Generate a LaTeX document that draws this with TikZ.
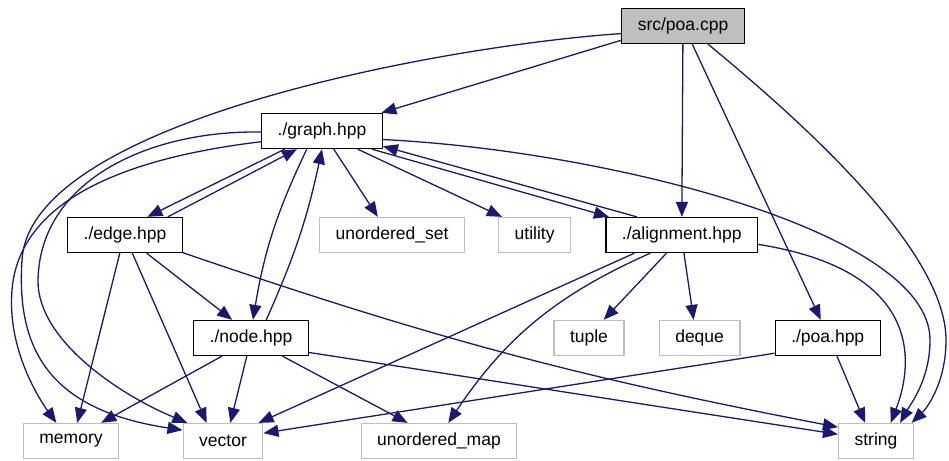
\documentclass[tikz,border=0pt]{standalone}
\usepackage{fontspec}
\setmainfont{Liberation Sans}
\usetikzlibrary{positioning}
\usetikzlibrary{arrows.meta}

\definecolor{inclblue}{HTML}{191970}
\definecolor{sysgray}{HTML}{BFBFBF}

\begin{document}
\begin{tikzpicture}[
                          x=1pt, y=-1pt,
                          every node/.style={font=\fontsize{17.5}{21}\selectfont},
                          filenode/.style={rectangle, draw=black, fill=white, line width=1.3pt, minimum height=35pt, inner xsep=16pt},
                          rootnode/.style={filenode, fill=sysgray},
                          sysnode/.style={filenode, draw=sysgray},
                          incl/.style={-{Triangle[length=15pt,width=12pt]}, draw=inclblue, line width=1.3pt},
                      ]
                      \useasboundingbox (0,0) rectangle (949,460);

                      %Nodes
                      \node[rootnode]   (poa_cpp)   at (683,26)                 {src/poa.cpp};
                      \node[filenode]   (graph_h)   at (322,131)                {./graph.hpp};
                      \node[filenode]   (edge_h)    at (125,235)                {./edge.hpp};
                      \node[sysnode]    (uset)      at (392,235)                {unordered\_set};
                      \node[sysnode]    (utility)   [right=33pt of uset]        {utility};
                      \node[filenode]   (align_h)   [right=34pt of utility]     {./alignment.hpp};
                      \node[filenode]   (node_h)    at (251,338)                {./node.hpp};
                      \node[sysnode]    (tuple)     at (589,338)                {tuple};
                      \node[sysnode]    (deque)     [right=34pt of tuple]       {deque};
                      \node[filenode]   (poa_h)     [right=34pt of deque]       {./poa.hpp};
                      \node[sysnode]    (memory)    at (71,441)                 {memory};
                      \node[sysnode]    (vector)    at (223,441)                {vector};
                      \node[sysnode]    (umap)      at (439,441)                {unordered\_map};
                      \node[sysnode]    (string)    at (876,441)                {string};

                      %Lines
                      \draw[incl] (poa_cpp.193) -- (graph_h.17);
                      \draw[incl] (poa_cpp.187) .. controls (450,45) and (30,120) .. (22,260)
                                  .. controls (16,350) and (50,410) .. (vector.165);
                      \draw[incl] (poa_cpp) -- (align_h);
                      \draw[incl] (poa_cpp.297) -- (poa_h.111);
                      \draw[incl] (poa_cpp.324) .. controls (800,120) and (946,250) .. (946,340)
                                  .. controls (946,385) and (925,410) .. (string.27);

                      \draw[incl] (graph_h.206) -- (edge_h.39);
                      \draw[incl] (edge_h.23) -- (graph_h.216);
                      \draw[incl] (graph_h.230) to[bend right=8] (node_h.84);
                      \draw[incl] (node_h.50) to[bend right=6] (graph_h.270);
                      \draw[incl] (graph_h.340) -- (align_h.166);
                      \draw[incl] (align_h.158) -- (graph_h.346);
                      \draw[incl] (graph_h.303) -- (uset.128);
                      \draw[incl] (graph_h.333) -- (utility.151);
                      \draw[incl] (graph_h.352) .. controls (600,150) and (930,230) .. (930,340)
                                  .. controls (930,380) and (910,405) .. (string.37);
                      \draw[incl] (graph_h.190) .. controls (150,155) and (20,190) .. (12,290)
                                  .. controls (7,350) and (40,400) .. (memory.129);
                      \draw[incl] (graph_h.181) .. controls (150,130) and (40,180) .. (38,280)
                                  .. controls (37,340) and (120,395) .. (vector.153);

                      \draw[incl] (edge_h.254) -- (memory.71);
                      \draw[incl] (edge_h.292) -- (vector.132);
                      \draw[incl] (edge_h.320) -- (node_h.136);
                      \draw[incl] (edge_h.343) to[bend right=4] (string.160);

                      \draw[incl] (node_h.212) -- (memory.31);
                      \draw[incl] (node_h.257) -- (vector.68);
                      \draw[incl] (node_h.330) -- (umap.150);
                      \draw[incl] (node_h.346) -- (string.170);

                      \draw[incl] (align_h.201) -- (vector.27);
                      \draw[incl] (align_h.210) to[bend right=16] (umap.63);
                      \draw[incl] (align_h.230) -- (tuple.51);
                      \draw[incl] (align_h.277) -- (deque.108);
                      \draw[incl] (align_h.353) .. controls (920,270) and (915,360) .. (string.51);

                      \draw[incl] (poa_h.196) -- (vector.11);
                      \draw[incl] (poa_h.297) -- (string.121);
                  \end{tikzpicture}
\end{document}
